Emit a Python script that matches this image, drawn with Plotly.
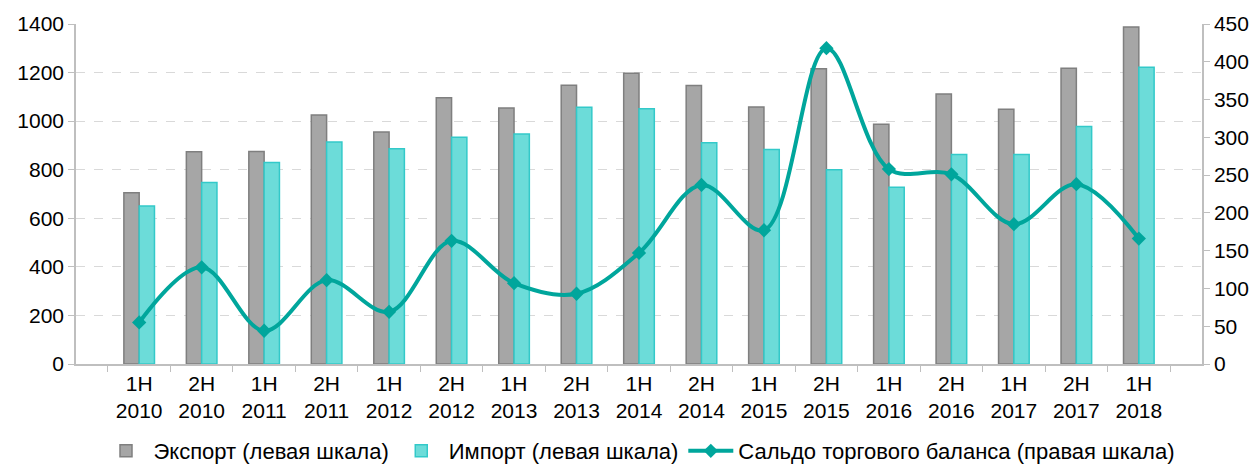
import plotly.graph_objects as go

categories = ["1H<br>2010", "2H<br>2010", "1H<br>2011", "2H<br>2011", "1H<br>2012", "2H<br>2012",
              "1H<br>2013", "2H<br>2013", "1H<br>2014", "2H<br>2014", "1H<br>2015", "2H<br>2015",
              "1H<br>2016", "2H<br>2016", "1H<br>2017", "2H<br>2017", "1H<br>2018"]
export_vals = [705, 874, 875, 1025, 955, 1096, 1054, 1148, 1197, 1147, 1058, 1216,
               987, 1112, 1049, 1218, 1388]
import_vals = [651, 747, 830, 914, 886, 934, 947, 1057, 1051, 911, 883, 800,
               728, 863, 863, 978, 1222]
balance_vals = [55, 128, 44, 111, 69, 163, 107, 93, 147, 237, 177, 418,
                258, 251, 185, 238, 166]

names = ["Экспорт (левая шкала)", "Импорт (левая шкала)", "Сальдо торгового баланса (правая шкала)"]

FONT = "Liberation Sans, Arial, sans-serif"

fig = go.Figure()
fig.add_trace(go.Bar(x=categories, y=export_vals, name=names[0],
                     marker=dict(color="#a6a6a6", line=dict(color="#7f7f7f", width=1.5))))
fig.add_trace(go.Bar(x=categories, y=import_vals, name=names[1],
                     marker=dict(color="#6cdcd9", line=dict(color="#33c9c9", width=1.5))))
fig.add_trace(go.Scatter(x=categories, y=balance_vals, name=names[2], yaxis="y2",
                         mode="lines+markers",
                         line=dict(color="#00a69c", width=4, shape="spline", smoothing=1.0),
                         marker=dict(symbol="diamond", size=11, color="#00a69c")))

fig.update_layout(
    width=1251, height=464,
    margin=dict(l=68, r=57, t=16, b=108),
    paper_bgcolor="white", plot_bgcolor="white",
    font=dict(family=FONT, size=21, color="#000000"),
    barmode="group", bargap=0.51, bargroupgap=0,
    showlegend=True,
    legend=dict(orientation="h", x=0.5, xanchor="center", xref="paper",
                yref="container", y=-0.024, yanchor="bottom", font=dict(size=22),
                itemwidth=45, traceorder="normal"),
    xaxis=dict(type="category", showline=True, linecolor="#bfbfbf", linewidth=1.5,
               ticks="outside", tickson="boundaries", ticklen=6, tickcolor="#bfbfbf",
               showgrid=False, tickfont=dict(size=21), automargin=False),
    yaxis=dict(range=[0, 1400], dtick=200, showline=True, linecolor="#bfbfbf", linewidth=1.5,
               ticks="outside", ticklen=6, tickcolor="#bfbfbf",
               showgrid=True, gridcolor="#d9d9d9", griddash="dash", gridwidth=1,
               zeroline=False, tickfont=dict(size=21), automargin=False),
    yaxis2=dict(range=[0, 450], dtick=50, overlaying="y", side="right",
                showline=True, linecolor="#bfbfbf", linewidth=1.5,
                ticks="outside", ticklen=6, tickcolor="#bfbfbf",
                showgrid=False, zeroline=False, tickfont=dict(size=21), automargin=False),
)

fig.write_html("out.html")
